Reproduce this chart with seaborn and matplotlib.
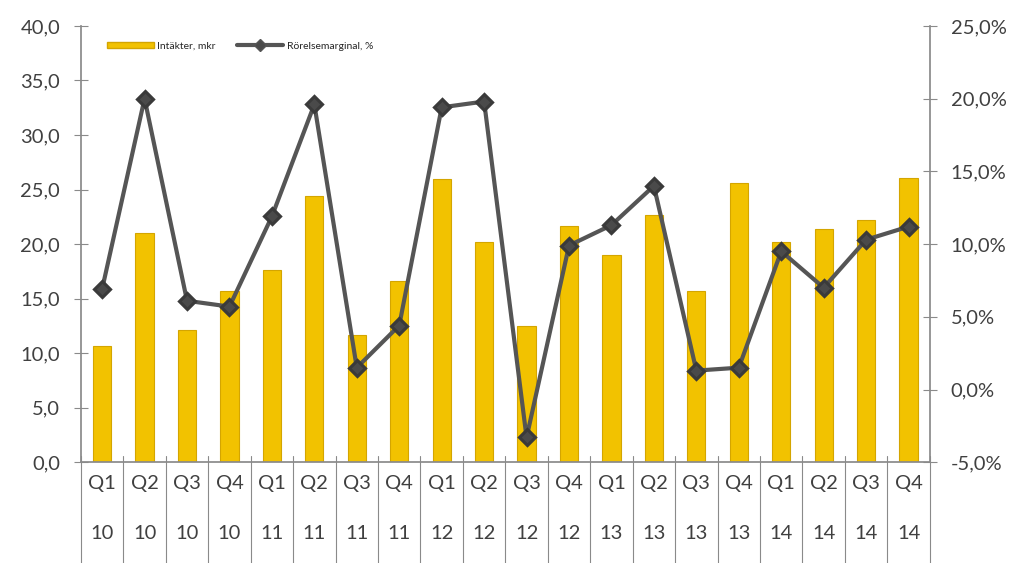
import matplotlib
matplotlib.use("Agg")
import matplotlib.pyplot as plt
import matplotlib.transforms as mtransforms
from matplotlib.ticker import FuncFormatter, MultipleLocator
from matplotlib.lines import Line2D
from matplotlib.patches import Patch
import seaborn as sns
import pandas as pd

quarters = ["Q1", "Q2", "Q3", "Q4"] * 5
years = ["10"] * 4 + ["11"] * 4 + ["12"] * 4 + ["13"] * 4 + ["14"] * 4
revenue = [10.7, 21.0, 12.1, 15.7, 17.6, 24.4, 11.7, 16.6, 26.0, 20.2,
           12.5, 21.7, 19.0, 22.7, 15.7, 25.6, 20.2, 21.4, 22.2, 26.1]
margin = [6.9, 20.0, 6.1, 5.7, 11.9, 19.6, 1.5, 4.4, 19.4, 19.8,
          -3.3, 9.9, 11.3, 14.0, 1.3, 1.5, 9.5, 7.0, 10.3, 11.2]
label_bar = "Intäkter, mkr"
label_line = "Rörelsemarginal, %"

periods = [f"{q} {y}" for q, y in zip(quarters, years)]
df = pd.DataFrame({"period": periods, "revenue": revenue, "margin": margin})

sns.set_theme(style="white")
plt.rcParams["font.family"] = ["Lato", "DejaVu Sans"]

fig = plt.figure(figsize=(10.24, 5.63), dpi=100)
ax = fig.add_axes([0.079, 0.179, 0.829, 0.775])

bar_color = "#F2C200"
line_color = "#555555"
sns.barplot(data=df, x="period", y="revenue", ax=ax, color=bar_color,
            width=0.43, saturation=1, edgecolor="#D4A500", linewidth=0.8)

ax2 = ax.twinx()
sns.pointplot(data=df, x="period", y="margin", ax=ax2, color=line_color,
              markers="D", linestyles="-", markersize=8, linewidth=3)
for line in ax2.lines:
    line.set_markerfacecolor("#4a4a4a")
    line.set_markeredgecolor("#3a3a3a")

ax.set_ylim(0, 40)
ax2.set_ylim(-5, 25)
ax.set_xlim(-0.5, len(periods) - 0.5)
ax.yaxis.set_major_locator(MultipleLocator(5))
ax2.yaxis.set_major_locator(MultipleLocator(5))
ax.yaxis.set_major_formatter(FuncFormatter(lambda v, p: f"{v:.1f}".replace(".", ",")))
ax2.yaxis.set_major_formatter(FuncFormatter(lambda v, p: f"{v:.1f}%".replace(".", ",")))

ax.set_xlabel("")
ax.set_ylabel("")
ax2.set_xlabel("")
ax2.set_ylabel("")

axis_gray = "#8a8a8a"
for a in (ax, ax2):
    for s in a.spines.values():
        s.set_visible(False)
ax.spines["left"].set_visible(True)
ax.spines["left"].set_color(axis_gray)
ax.spines["bottom"].set_visible(True)
ax.spines["bottom"].set_color(axis_gray)
ax2.spines["right"].set_visible(True)
ax2.spines["right"].set_color(axis_gray)

ax.tick_params(axis="y", direction="inout", length=10, width=0.8, color=axis_gray,
               labelsize=14.5, labelcolor="#404040", pad=10, left=True)
ax2.tick_params(axis="y", direction="inout", length=10, width=0.8, color=axis_gray,
                labelsize=14.5, labelcolor="#404040", pad=10, right=True)

ax.set_xticks(range(len(periods)))
ax.set_xticklabels([f"{q}\n{y}" for q, y in zip(quarters, years)],
                   fontsize=14.5, color="#404040", linespacing=3.4)
ax.tick_params(axis="x", length=0, pad=9)

# category separators below axis
trans = mtransforms.blended_transform_factory(ax.transData, ax.transAxes)
for i in range(len(periods) + 1):
    ax.add_line(Line2D([i - 0.5, i - 0.5], [0.015, -0.26], transform=trans,
                       color=axis_gray, linewidth=0.8, clip_on=False))

handles = [Patch(facecolor=bar_color, edgecolor="#D4A500", label=label_bar),
           Line2D([0], [0], color=line_color, linewidth=3, marker="D",
                  markersize=6, markerfacecolor="#4a4a4a", label=label_line)]
leg = ax.legend(handles=handles, loc="upper left", bbox_to_anchor=(0.02, 0.985),
                ncol=2, frameon=False, fontsize=7.5, handlelength=4.5,
                handleheight=0.6, columnspacing=2.0, handletextpad=0.3)

fig.savefig("out.png", dpi=100, facecolor="white")
